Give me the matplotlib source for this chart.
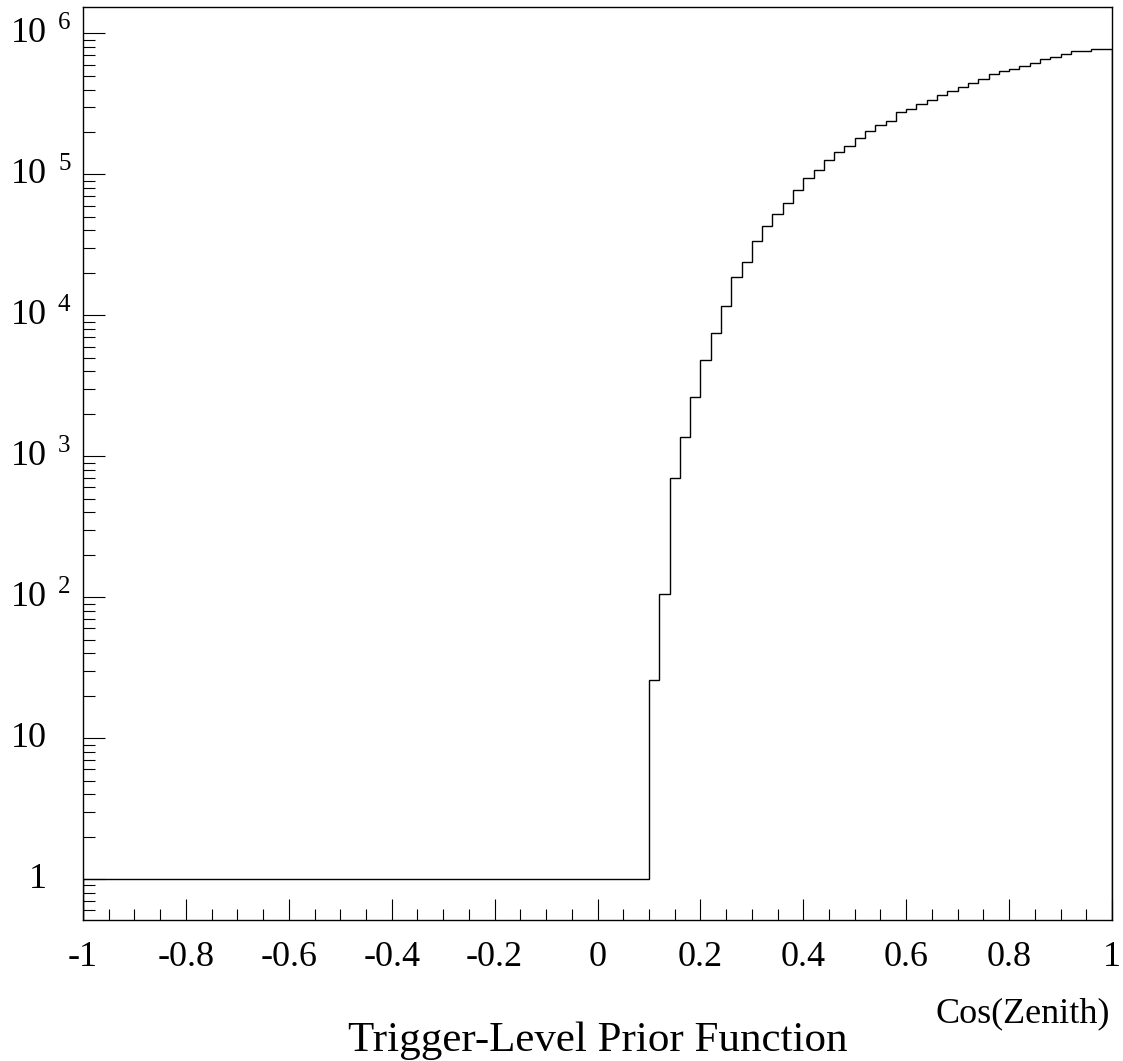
import numpy as np
import matplotlib
matplotlib.use("Agg")
import matplotlib.pyplot as plt
from matplotlib.ticker import MultipleLocator, LogLocator, NullFormatter, FixedLocator

# histogram: 100 bins over cos(zenith) in [-1, 1]
bin_edges = np.linspace(-1.0, 1.0, 101)
flat_counts = [1.0] * 55          # bins from -1 up to 0.1
rise_counts = [26, 105, 700, 1360, 2620, 4820, 7450, 11700, 18600, 23700,
               33700, 43300, 52300, 63000, 77000, 94200, 108000, 126000, 143000, 158000,
               182000, 203000, 223000, 240000, 275000, 292000, 317000, 339000, 363000, 392000,
               416000, 447000, 472000, 512000, 537000, 562000, 586000, 615000, 662000, 680000,
               718000, 745000, 745000, 771000, 771000]
counts = np.array(flat_counts + rise_counts, dtype=float)

x_ticks = [-1, -0.8, -0.6, -0.4, -0.2, 0, 0.2, 0.4, 0.6, 0.8, 1]
x_labels = ["-1", "-0.8", "-0.6", "-0.4", "-0.2", "0", "0.2", "0.4", "0.6", "0.8", "1"]
y_exponents = [0, 1, 2, 3, 4, 5, 6]

x_title = "Cos(Zenith)"
title = "Trigger-Level Prior Function"

y_min, y_max = 0.512, 1.54e6

plt.rcParams['font.family'] = ['Liberation Serif', 'DejaVu Serif']
plt.rcParams['axes.unicode_minus'] = False

W, H = 1123, 1061
fig = plt.figure(figsize=(W / 100, H / 100), dpi=100)
ax = fig.add_axes([83 / W, 1 - 920 / H, (1112 - 83) / W, (920 - 7) / H])

ax.stairs(counts, bin_edges, baseline=y_min, color='black', lw=1.0)

ax.set_yscale('log')
ax.set_xlim(-1, 1)
ax.set_ylim(y_min, y_max)

ax.xaxis.set_major_locator(FixedLocator(x_ticks))
ax.set_xticklabels(x_labels)
ax.xaxis.set_minor_locator(MultipleLocator(0.05))

ax.yaxis.set_major_locator(FixedLocator([10.0 ** e for e in y_exponents]))
ax.yaxis.set_minor_locator(LogLocator(base=10, subs=np.arange(2, 10), numticks=50))
ax.yaxis.set_major_formatter(NullFormatter())
ax.yaxis.set_minor_formatter(NullFormatter())

ax.tick_params(axis='x', which='major', direction='in', length=15, width=0.8,
               labelsize=26, pad=15, top=False)
ax.tick_params(axis='x', which='minor', direction='in', length=8, width=0.8, top=False)
ax.tick_params(axis='y', which='major', direction='in', length=16, width=0.8, right=False)
ax.tick_params(axis='y', which='minor', direction='in', length=8.5, width=0.8, right=False)

for sp in ax.spines.values():
    sp.set_linewidth(1.0)

# y labels drawn ROOT-style: "10" with a detached exponent
ytrans = ax.get_yaxis_transform()
for e in y_exponents:
    base = "1" if e == 0 else "10"
    ax.annotate(base, xy=(0, 10.0 ** e), xycoords=ytrans,
                xytext=(-36 * 0.72, 0), textcoords='offset points',
                ha='right', va='center', fontsize=26)
    if e >= 2:
        ax.annotate(str(e), xy=(0, 10.0 ** e), xycoords=ytrans,
                    xytext=(-25 * 0.72, 4 * 0.72), textcoords='offset points',
                    ha='left', va='baseline', fontsize=18)

fig.text(1110 / W, 1 - 1022 / H, x_title, ha='right', va='baseline', fontsize=26)
fig.text(597.5 / W, 1 - 1051 / H, title, ha='center', va='baseline', fontsize=31)

fig.savefig("out.png", dpi=100)
